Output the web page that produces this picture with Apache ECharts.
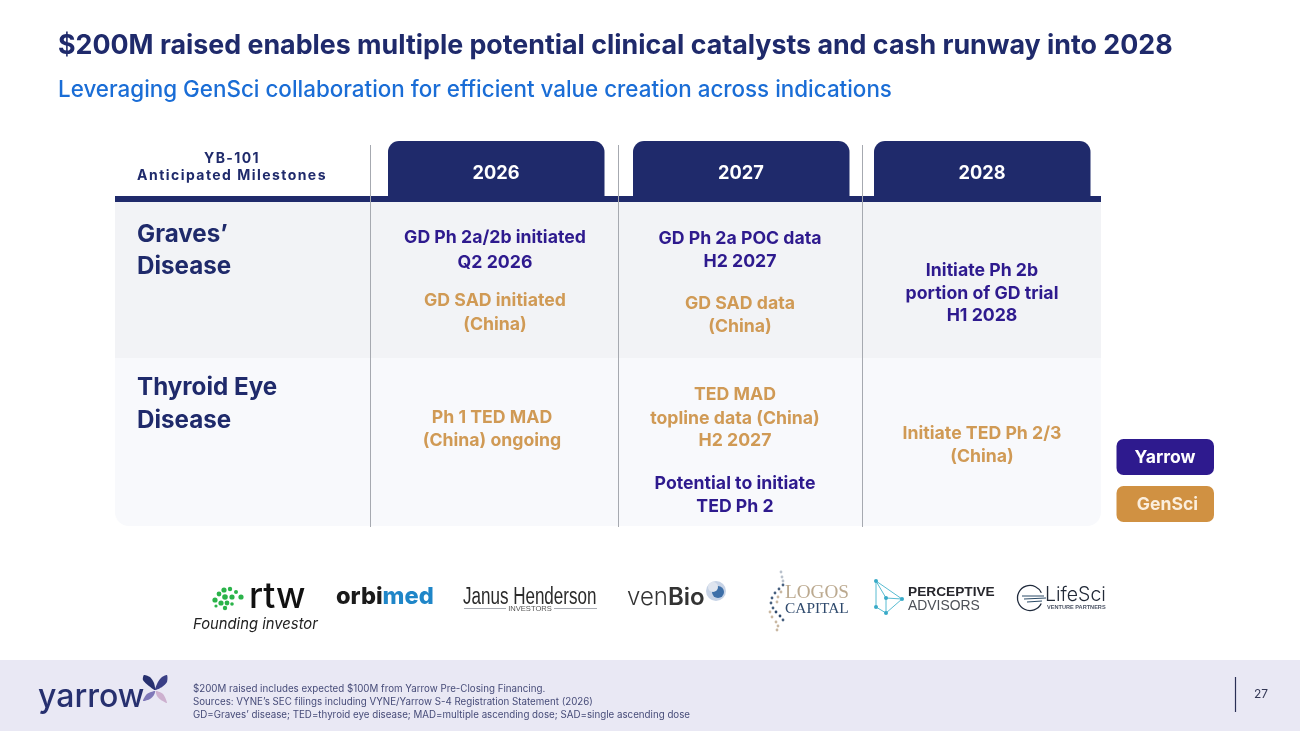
<!DOCTYPE html>
<html><head><meta charset="utf-8">
<style>html,body{margin:0;padding:0;background:#fff}#c{width:1300px;height:731px}</style>
<script src="https://cdn.jsdelivr.net/npm/echarts@6/dist/echarts.min.js"></script>
</head><body><div id="c"></div>
<script>
// ---------- content ----------
const titleText = "$200M raised enables multiple potential clinical catalysts and cash runway into 2028";
const subtitleText = "Leveraging GenSci collaboration for efficient value creation across indications";
const headerLines = ["YB-101", "Anticipated Milestones"];
const years = ["2026", "2027", "2028"];
const graves = ["Graves’", "Disease"];
const thyroid = ["Thyroid Eye", "Disease"];
const legendNames = ["Yarrow", "GenSci"];
const gd2026Yarrow = ["GD Ph 2a/2b initiated", "Q2 2026"];
const gd2026GenSci = ["GD SAD initiated", "(China)"];
const gd2027Yarrow = ["GD Ph 2a POC data", "H2 2027"];
const gd2027GenSci = ["GD SAD data", "(China)"];
const gd2028Yarrow = ["Initiate Ph 2b", "portion of GD trial", "H1 2028"];
const ted2026GenSci = ["Ph 1 TED MAD", "(China) ongoing"];
const ted2027GenSci = ["TED MAD", "topline data (China)", "H2 2027"];
const ted2027Yarrow = ["Potential to initiate", "TED Ph 2"];
const ted2028GenSci = ["Initiate TED Ph 2/3", "(China)"];
const footnotes = [
  "$200M raised includes expected $100M from Yarrow Pre-Closing Financing.",
  "Sources: VYNE’s SEC filings including VYNE/Yarrow S-4 Registration Statement (2026)",
  "GD=Graves’ disease; TED=thyroid eye disease; MAD=multiple ascending dose; SAD=single ascending dose"
];
const pageNumber = "27";

// ---------- style ----------
const NAVY = "#1f2a6b", PURPLE = "#2e1a8e", GOLD = "#d09a55", GOLDBTN = "#d09142";
const F = "Inter, 'Noto Sans', sans-serif";
const g = [];
const SPACED = {"YB-101": "1.4px", "Anticipated Milestones": "1.45px"};
const ft = CanvasRenderingContext2D.prototype.fillText;
CanvasRenderingContext2D.prototype.fillText = function (t, x, y, m) {
  this.letterSpacing = SPACED[t] || "0px";
  return m === undefined ? ft.call(this, t, x, y) : ft.call(this, t, x, y, m);
};
function T(text, x, y, size, weight, fill, align, fam, extra) {
  g.push({type: "text", z: 10, silent: true, style: Object.assign({text, x, y, fontSize: size, fontWeight: weight,
    fontFamily: fam || F, fill, align: align || "center", verticalAlign: "middle"}, extra || {})});
}
function R(x, y, w, h, fill, r, z) {
  g.push({type: "rect", z: z || 1, silent: true, shape: {x, y, width: w, height: h, r: r || 0}, style: {fill}});
}
function L(x1, y1, x2, y2, stroke, lw, z) {
  g.push({type: "line", z: z || 5, silent: true, shape: {x1, y1, x2, y2}, style: {stroke, lineWidth: lw || 1}});
}
function C(cx, cy, r, fill, z) {
  g.push({type: "circle", z: z || 10, silent: true, shape: {cx, cy, r}, style: {fill}});
}
function P(points, fill, z) {
  g.push({type: "polygon", z: z || 10, silent: true, shape: {points, smooth: 0.25}, style: {fill}});
}
function lines(arr, x, ys, color) {
  arr.forEach((s, i) => T(s, x, ys[i] + 1, 17.7, 700, color));
}

// headings
T(titleText, 58, 45.5, 26.8, 700, NAVY, "left");
T(subtitleText, 58, 90, 22.4, 500, "#1a6dd6", "left");

// table background
R(115, 202, 986, 156, "#f2f3f6");
g.push({type: "rect", z: 1, silent: true, shape: {x: 115, y: 358, width: 986, height: 168, r: [0, 0, 14, 14]}, style: {fill: "#f8f9fc"}});
R(115, 196, 986, 6, NAVY, 0, 3);
[388, 633, 874].forEach((x, i) => {
  g.push({type: "rect", z: 3, silent: true, shape: {x, y: 141, width: 216.5, height: 56, r: [11, 11, 0, 0]}, style: {fill: NAVY}});
  T(years[i], x + 108, 174, 18.2, 700, "#ffffff");
});
[370.5, 618.5, 862.5].forEach(x => L(x, 145, x, 527, "#a6a9b0", 1));

T(headerLines[0], 232, 158.5, 14, 700, NAVY);
T(headerLines[1], 232, 176, 14, 700, NAVY);

T(graves[0], 137, 235, 24.2, 700, NAVY, "left");
T(graves[1], 137, 267, 24.2, 700, NAVY, "left");
T(thyroid[0], 137, 388, 24.2, 700, NAVY, "left");
T(thyroid[1], 137, 421, 24.2, 700, NAVY, "left");

// milestones
lines(gd2026Yarrow, 495, [237, 262], PURPLE);
lines(gd2026GenSci, 495, [300, 324], GOLD);
lines(gd2027Yarrow, 740, [238, 261], PURPLE);
lines(gd2027GenSci, 740, [303, 326], GOLD);
lines(gd2028Yarrow, 982, [270, 293, 315], PURPLE);
lines(ted2026GenSci, 492, [417, 440], GOLD);
lines(ted2027GenSci, 735, [394, 418, 440], GOLD);
lines(ted2027Yarrow, 735, [483, 506], PURPLE);
lines(ted2028GenSci, 982, [433, 456], GOLD);

// legend
R(1116.5, 439, 97.5, 36, PURPLE, 7, 3);
R(1116.5, 486, 97.5, 36, GOLDBTN, 7, 3);
T(legendNames[0], 1165, 458, 17.6, 700, "#ffffff");
T(legendNames[1], 1167.5, 505, 17.6, 700, "#fbeedd");

// ---------- investor logos (typeset wordmarks) ----------
const SANS = "'Liberation Sans', Arial, sans-serif", SERIF = "'Liberation Serif', serif";
[[215,600,2.6],[219,594,2.4],[224,590,2.6],[230,589,2.2],[236,592,2],[241,597,2.6],[225,597,2.8],[232,597,2.6],[221,603,2.6],[227,603,2.4],[232,604,1.8],[225,608,2.2],[216,606,1.6]]
  .forEach(d => C(d[0], d[1], d[2], "#2bb34a"));
T("rtw", 249, 597, 35.5, 500, "#111111", "left", F);
T("Founding investor", 193, 624.5, 14.8, 400, "#222222", "left", F, {fontStyle: "italic"});
g.push({type: "text", z: 10, silent: true, style: {x: 336, y: 597, align: "left", verticalAlign: "middle", text: "{a|orbi}{b|med}",
  rich: {a: {fontSize: 23.6, fontWeight: 800, fontFamily: F, fill: "#1b1b1b"}, b: {fontSize: 23.6, fontWeight: 800, fontFamily: F, fill: "#1f86c8"}}}});
g.push({type: "text", z: 10, silent: true, x: 463, y: 598, scaleX: 0.74, style: {text: "Janus Henderson", x: 0, y: 0, fontSize: 23, fontFamily: SANS, fill: "#2a2a2a", align: "left", verticalAlign: "middle"}});
T("INVESTORS", 530, 608.5, 7.6, 400, "#555555", "center", SANS);
L(464, 608.5, 506, 608.5, "#a8acb4", 1.2); L(554, 608.5, 597, 608.5, "#a8acb4", 1.2);
g.push({type: "text", z: 10, silent: true, style: {x: 627, y: 598, align: "left", verticalAlign: "middle", text: "{a|ven}{b|Bio}",
  rich: {a: {fontSize: 24, fontWeight: 300, fontFamily: F, fill: "#333333"}, b: {fontSize: 24, fontWeight: 600, fontFamily: F, fill: "#333333"}}}});
C(716, 591, 10, "#c7d3e6"); C(718, 592, 6, "#3d6fa8"); C(713, 587, 5, "#dfe5ef");
// Logos Capital
[[783,585,"#47607f"],[779,589,"#47607f"],[775,593,"#47607f"],[772,598,"#47607f"],[771,603,"#47607f"],[773,608,"#47607f"],[776,612,"#2f4a6d"],[780,616,"#2f4a6d"],[783,620,"#47607f"],
 [781,572,"#b9c1cc"],[782,577,"#b9c1cc"],[783,581,"#b9c1cc"],[781,592,"#c9b8a2"],[778,597,"#c9b8a2"],[777,602,"#c9b8a2"],[770,612,"#c9b8a2"],[772,617,"#c9b8a2"],[776,622,"#c9b8a2"],[778,626,"#c9b8a2"],[777,630,"#c9b8a2"]]
  .forEach(d => C(d[0], d[1], 1.4, d[2]));
T("LOGOS", 785, 593, 19.2, 400, "#bba98f", "left", SERIF);
T("CAPITAL", 785, 609, 15.4, 400, "#2f4a6d", "left", SERIF);
// Perceptive
const pt = [[876,581],[886,598],[902,599],[876,607],[886,613]];
[[0,2],[0,3],[3,4],[4,2],[1,2],[1,4],[0,1]].forEach(e => L(pt[e[0]][0], pt[e[0]][1], pt[e[1]][0], pt[e[1]][1], "#58bcd2", 1));
pt.forEach(p => C(p[0], p[1], 2, "#38aac8"));
T("PERCEPTIVE", 908, 592, 13.7, 800, "#26262c", "left", SANS);
T("ADVISORS", 908, 606, 13.9, 400, "#4d5158", "left", SANS);
// LifeSci
g.push({type: "arc", z: 10, silent: true, shape: {cx: 1030, cy: 598, r: 12.5, startAngle: 0.45, endAngle: 5.85}, style: {fill: "none", stroke: "#1f2a3c", lineWidth: 1.3}});
L(1022, 596, 1044, 596, "#2a4a66", 1); L(1024, 599, 1046, 598, "#2a4a66", 1); L(1027, 602, 1042, 601, "#2a4a66", 1);
T("LifeSci", 1045, 595, 19.5, 300, "#222a38", "left", F);
T("VENTURE PARTNERS", 1047, 607, 5.6, 700, "#4d5566", "left", SANS);

// ---------- footer ----------
R(0, 660, 1300, 71, "#e9e8f4", 0, 2);
T("yarrow", 38, 697, 32, 500, "#27306f", "left", F);
P([[155,690],[149,686],[143,680],[144,675],[150,677],[154,683]], "#27306f");
P([[155,690],[158,682],[162,677],[167,675],[167,682],[162,687]], "#3a3f86");
P([[155,691],[147,694],[143,701],[150,699],[154,695]], "#7f78b8");
P([[156,691],[163,694],[167,703],[161,700],[157,696]], "#cdb0cf");
footnotes.forEach((s, i) => T(s, 193, 689.5 + i * 13, 9.75, 400, "#464b78", "left"));
L(1235.5, 677, 1235.5, 712, "#2a2f55", 1.2);
T(pageNumber, 1261, 694.5, 12, 400, "#333755");

const chart = echarts.init(document.getElementById("c"), null, {renderer: "canvas"});
chart.setOption({animation: false, backgroundColor: "#ffffff", graphic: {elements: g}});
</script></body></html>
